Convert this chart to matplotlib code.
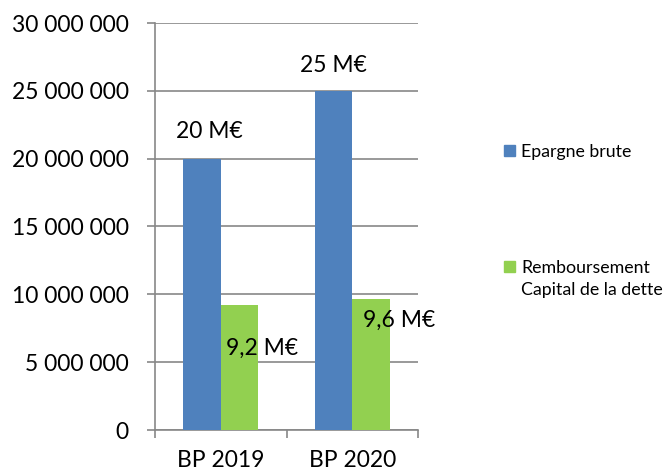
import matplotlib
matplotlib.use("Agg")
import matplotlib.pyplot as plt
import numpy as np

categories = ["BP 2019", "BP 2020"]
epargne = [20000000, 25000000]
remboursement = [9200000, 9630000]
epargne_labels = ["20 M€", "25 M€"]
remb_labels = ["9,2 M€", "9,6 M€"]
yticks = [0, 5000000, 10000000, 15000000, 20000000, 25000000, 30000000]
ytick_labels = ["0", "5 000 000", "10 000 000", "15 000 000", "20 000 000", "25 000 000", "30 000 000"]
legend_names = ["Epargne brute", "Remboursement", "Capital de la dette"]

plt.rcParams['font.family'] = ['Lato', 'DejaVu Sans']
fig = plt.figure(figsize=(6.65, 4.73), dpi=100)
ax = fig.add_axes([155/665, 43/473, 263/665, 407/473])

FS = 16.5
x = np.arange(len(categories)) + 0.5
w = 0.285
blue = "#4F81BD"
green = "#92D050"
b1 = ax.bar(x - w/2, epargne, w, color=blue, zorder=3)
b2 = ax.bar(x + w/2, remboursement, w, color=green, zorder=3)

ax.set_xlim(0, 2)
ax.set_ylim(0, 30000000)
ax.set_yticks(yticks)
ax.set_yticklabels(ytick_labels, fontsize=FS)
ax.set_xticks(x)
ax.set_xticklabels(categories, fontsize=FS)
ax.set_xticks([0, 1, 2], minor=True)
ax.tick_params(axis='x', which='major', length=0, pad=14.5)
ax.tick_params(axis='x', which='minor', length=6, color="#878787", width=1.2)
ax.tick_params(axis='y', length=6, color="#878787", width=1.2, pad=13)
ax.yaxis.grid(True, color="#878787", linewidth=1.2, zorder=0)
for s in ["top", "right"]:
    ax.spines[s].set_visible(False)
for s in ["left", "bottom"]:
    ax.spines[s].set_color("#878787")
    ax.spines[s].set_linewidth(1.2)

e_off = [(7, 27), (0, 25)]
r_off = [(23, -43), (28, -21)]
for rect, lab, off in zip(b1, epargne_labels, e_off):
    ax.annotate(lab, (rect.get_x() + rect.get_width()/2, rect.get_height()),
                xytext=off, textcoords='offset pixels', ha='center', va='center', fontsize=FS, zorder=5)
for rect, lab, off in zip(b2, remb_labels, r_off):
    ax.annotate(lab, (rect.get_x() + rect.get_width()/2, rect.get_height()),
                xytext=off, textcoords='offset pixels', ha='center', va='center', fontsize=FS, zorder=5)

h1 = plt.Rectangle((0, 0), 1, 1, color=blue)
h2 = plt.Rectangle((0, 0), 1, 1, color=green)
fig.legend([h1], [legend_names[0]], loc='center left', bbox_to_anchor=(488/665, 1-152/473),
           frameon=False, fontsize=12.8, handlelength=0.6, handleheight=0.6, handletextpad=0.35)
fig.legend([h2], [legend_names[1]], loc='center left', bbox_to_anchor=(488/665, 1-268/473),
           frameon=False, fontsize=12.8, handlelength=0.6, handleheight=0.6, handletextpad=0.35)
fig.text(521/665, 1-290/473, legend_names[2], fontsize=12.8, ha='left', va='center')

fig.savefig("out.png", dpi=100)
